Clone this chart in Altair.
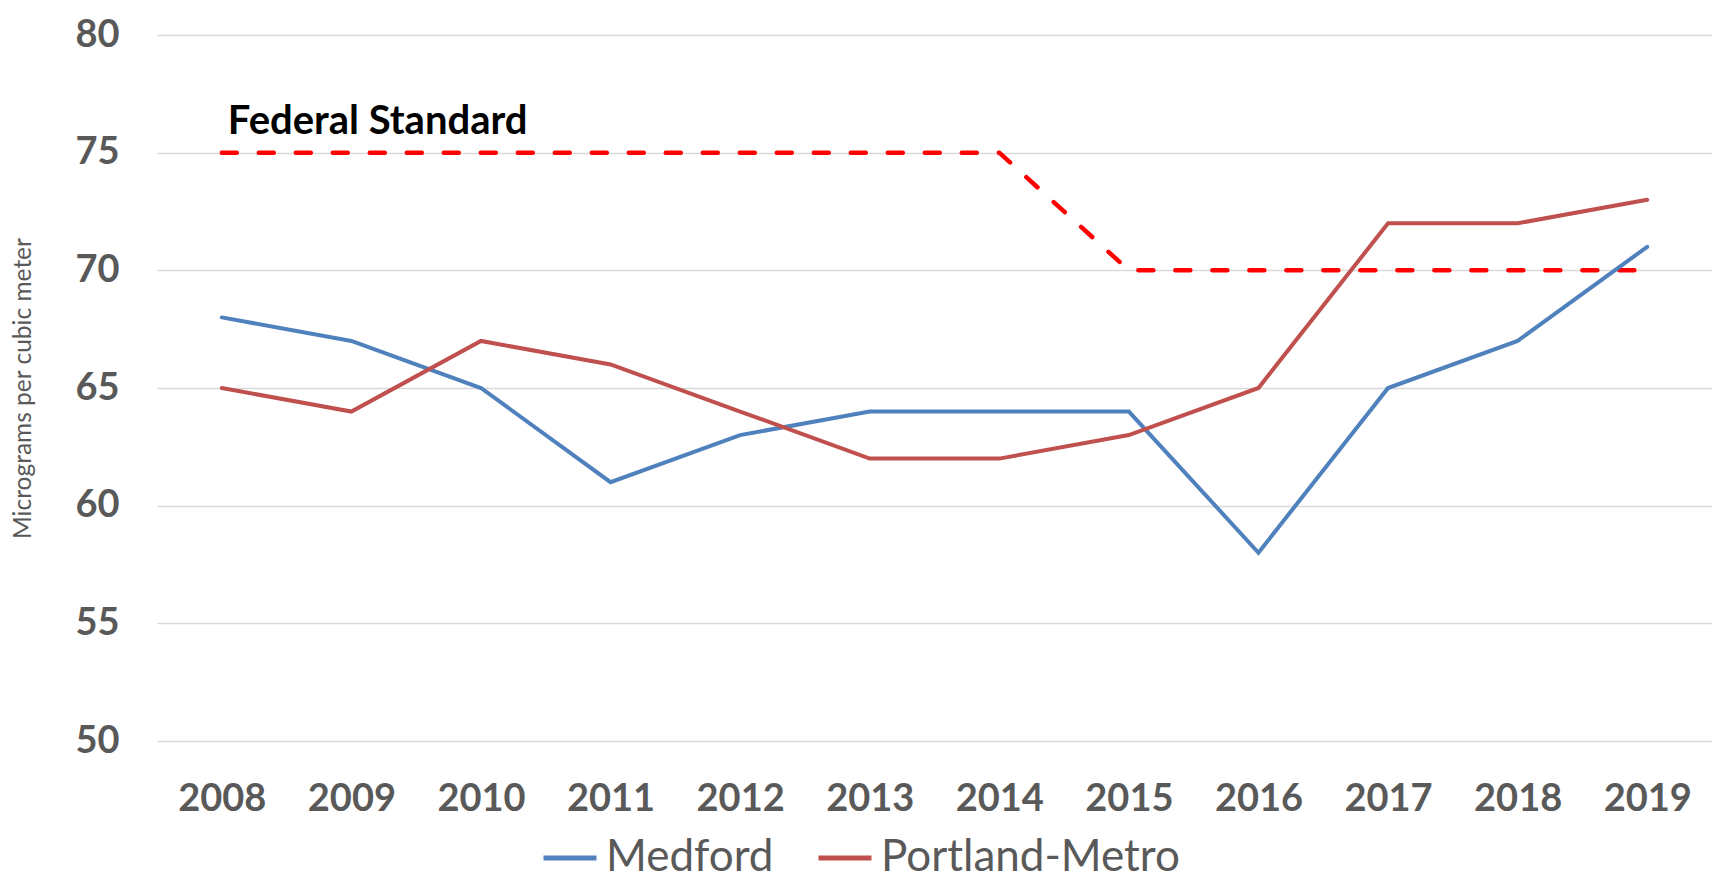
import altair as alt
import pandas as pd

years = ["2008", "2009", "2010", "2011", "2012", "2013", "2014", "2015", "2016", "2017", "2018", "2019"]
medford = [68, 67, 65, 61, 63, 64, 64, 64, 58, 65, 67, 71]
portland = [65, 64, 67, 66, 64, 62, 62, 63, 65, 72, 72, 73]
federal = [75, 75, 75, 75, 75, 75, 75, 70, 70, 70, 70, 70]
y_ticks = [50, 55, 60, 65, 70, 75, 80]
series_names = ["Medford", "Portland-Metro"]
series_colors = ["#4F81BD", "#C0504D"]

series_df = pd.DataFrame({
    "Year": years * 2,
    "Value": medford + portland,
    "Series": [series_names[0]] * len(years) + [series_names[1]] * len(years),
})
fed_df = pd.DataFrame({"Year": years, "Value": federal})
label_df = pd.DataFrame({"Year": [years[0]], "Value": [federal[0]], "Label": ["Federal Standard"]})

GRAY = "#595959"
PLOT_H = 706

x_enc = alt.X(
    "Year:O",
    sort=years,
    scale=alt.Scale(domain=years, padding=0.5),
    axis=alt.Axis(
        title=None, labelAngle=0, labelFont="Lato", labelFontWeight="bold",
        labelFontSize=38, labelColor=GRAY, labelPadding=39, ticks=False,
        tickSize=0, domain=False, grid=False,
    ),
)
y_enc = alt.Y(
    "Value:Q",
    scale=alt.Scale(domain=[50, 80], nice=False, zero=False),
    axis=alt.Axis(
        title="Micrograms per cubic meter", values=y_ticks,
        labelFont="Lato", labelFontWeight="bold", labelFontSize=38,
        labelColor=GRAY, labelPadding=38, ticks=False, tickSize=0, domain=False,
        grid=True, gridColor="#d9d9d9", gridWidth=1.5,
        titleFont="Lato", titleFontWeight="normal", titleFontSize=24.5,
        titleColor=GRAY, titleX=-134, titleY=PLOT_H / 2, titleAngle=270,
        titleAlign="center", titleBaseline="middle",
    ),
)

fed_line = alt.Chart(fed_df).mark_line(
    color="#FF0000", strokeWidth=4.5, strokeDash=[15, 22], strokeCap="round"
).encode(x=x_enc, y=y_enc)

series_lines = alt.Chart(series_df).mark_line(strokeWidth=4, strokeCap="round").encode(
    x=x_enc,
    y=y_enc,
    color=alt.Color(
        "Series:N",
        scale=alt.Scale(domain=series_names, range=series_colors),
        legend=alt.Legend(
            title=None, orient="none", legendX=384, legendY=794,
            direction="horizontal", symbolType="stroke", symbolSize=2809,
            symbolStrokeWidth=5, labelFont="Lato", labelFontSize=44,
            labelColor=GRAY, labelOffset=7, labelLimit=600, columnPadding=34,
            padding=0,
        ),
    ),
)

fed_text = alt.Chart(label_df).mark_text(
    align="left", baseline="alphabetic", dx=6, dy=-19,
    font="Lato", fontWeight="bold", fontSize=40, color="#000000",
).encode(x=x_enc, y=y_enc, text="Label:N")

chart = alt.layer(fed_line, series_lines, fed_text).properties(
    width=1555, height=PLOT_H,
    padding={"left": 149, "top": 27, "right": 0, "bottom": 142},
    autosize=alt.AutoSizeParams(type="none"),
).configure_view(stroke=None)

chart.save("out.html", embed_options={"renderer": "svg", "actions": False})
